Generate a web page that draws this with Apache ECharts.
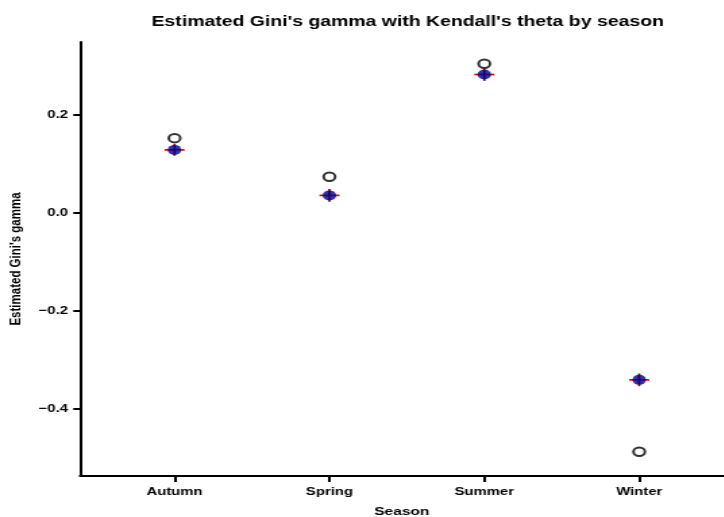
<!DOCTYPE html>
<html>
<head>
<meta charset="utf-8">
<script src="https://cdn.jsdelivr.net/npm/echarts@6/dist/echarts.min.js"></script>
<style>
  html, body { margin: 0; padding: 0; background: #fff; overflow: hidden; }
  /* the figure is laid out on a narrower canvas and stretched horizontally */
  #chart { width: 536.3px; height: 517px; transform: scaleX(1.35); transform-origin: 0 0; }
</style>
</head>
<body>
<div id="chart"></div>
<script>
// Seasons and estimates
const seasons = ['Autumn', 'Spring', 'Summer', 'Winter'];
const gamma = [0.129, 0.036, 0.283, -0.341];       // estimated Gini's gamma
const gammaLower = [0.117, 0.023, 0.270, -0.354];  // interval bounds
const gammaUpper = [0.141, 0.049, 0.296, -0.328];
const theta = [0.153, 0.074, 0.305, -0.488];       // Kendall's theta
const yTicks = [-0.4, -0.2, 0.0, 0.2];
const xTicks = [1, 2, 3, 4];

const chart = echarts.init(document.getElementById('chart'), null, { renderer: 'canvas' });

const pos = (arr) => arr.map((v, i) => [i + 1, v]);
const font = 'Liberation Sans, Arial, sans-serif';

chart.setOption({
  animation: false,
  backgroundColor: '#fff',
  title: {
    text: "Estimated Gini's gamma with Kendall's theta by season",
    left: 297, top: 10, textAlign: 'center',
    textStyle: { fontFamily: font, fontWeight: 'bold', fontSize: 14.4, color: '#000' }
  },
  grid: { left: 59.3, right: 0, top: 42, bottom: 41, containLabel: false, outerBoundsMode: 'none' },
  xAxis: {
    type: 'value', min: 0.39, max: 4.545,
    name: 'Season', nameLocation: 'middle', nameGap: 30,
    nameTextStyle: { fontFamily: font, fontWeight: 'bold', fontSize: 11.5, color: '#000' },
    axisLine: { show: true, onZero: false, lineStyle: { color: '#000', width: 2 } },
    axisTick: { show: true, customValues: xTicks, length: 6, lineStyle: { color: '#000', width: 2 } },
    axisLabel: {
      customValues: xTicks, margin: 10,
      fontFamily: font, fontWeight: 'bold', fontSize: 11, color: '#000',
      formatter: (v) => seasons[Math.round(v) - 1]
    },
    splitLine: { show: false }
  },
  yAxis: {
    type: 'value', min: -0.5375, max: 0.3495,
    name: "Estimated Gini's gamma", nameLocation: 'middle', nameGap: 41,
    nameTextStyle: { fontFamily: font, fontWeight: 'bold', fontSize: 11.5, color: '#000' },
    axisLine: { show: true, onZero: false, lineStyle: { color: '#000', width: 2 } },
    axisTick: { show: true, customValues: yTicks, length: 5, lineStyle: { color: '#000', width: 2 } },
    axisLabel: {
      customValues: yTicks, margin: 9,
      fontFamily: font, fontWeight: 'bold', fontSize: 11, color: '#000',
      formatter: (v) => (v < 0 ? '\u2212' : '') + Math.abs(v).toFixed(1)
    },
    splitLine: { show: false }
  },
  series: [
    {
      name: "Kendall's theta",
      type: 'scatter',
      data: pos(theta),
      symbol: 'circle', symbolSize: 8.5,
      itemStyle: { color: 'rgba(0,0,0,0)', borderColor: '#000', borderWidth: 2 },
      z: 2
    },
    {
      name: 'interval',
      type: 'custom',
      data: gamma.map((v, i) => [i + 1, v, gammaLower[i], gammaUpper[i]]),
      renderItem: (params, api) => {
        const c = api.coord([api.value(0), api.value(1)]);
        const lo = api.coord([api.value(0), api.value(2)]);
        const hi = api.coord([api.value(0), api.value(3)]);
        return {
          type: 'group',
          children: [
            { type: 'line', shape: { x1: c[0] - 7.4, y1: c[1], x2: c[0] + 7.4, y2: c[1] },
              style: { stroke: '#e00000', lineWidth: 1.7 } },
            { type: 'line', shape: { x1: c[0], y1: lo[1], x2: c[0], y2: hi[1] },
              style: { stroke: '#8b0000', lineWidth: 1.7 } }
          ]
        };
      },
      z: 3
    },
    {
      name: "Gini's gamma",
      type: 'scatter',
      data: pos(gamma),
      symbol: 'circle', symbolSize: 10,
      itemStyle: { color: '#00008b' },
      z: 4
    }
  ]
});
</script>
</body>
</html>
